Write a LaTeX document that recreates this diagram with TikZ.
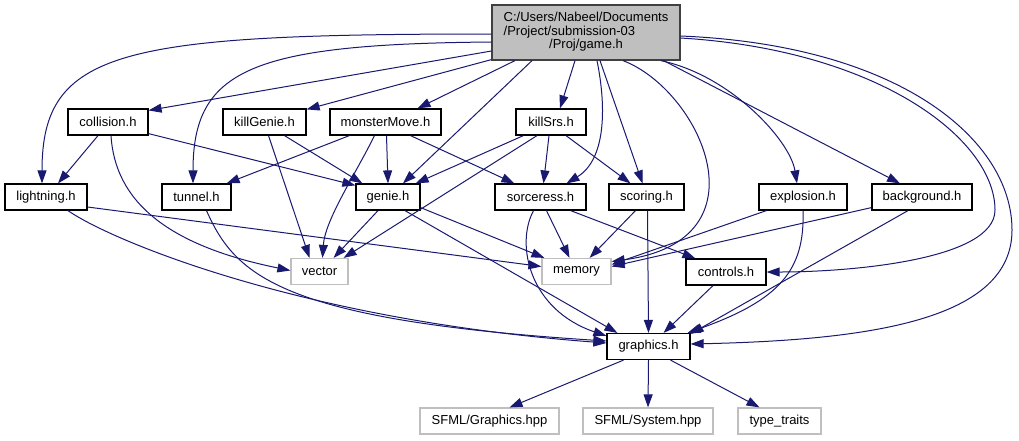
\documentclass[tikz,border=0pt]{standalone}
\usepackage{fontspec}
\setmainfont{Liberation Sans}
\usetikzlibrary{arrows.meta,calc}
\definecolor{edgeblue}{HTML}{191970}
\definecolor{extgray}{HTML}{BFBFBF}
\definecolor{rootborder}{HTML}{404040}
\begin{document}
\begin{tikzpicture}[x=1pt,y=-1pt,
  box/.style={draw=black, line width=1.2pt, fill=white, inner sep=0pt, minimum height=26pt, font=\fontsize{13}{13}\selectfont},
  ext/.style={box, draw=extgray},
  root/.style={box, draw=rootborder, fill=extgray},
  dep/.style={draw=edgeblue, line width=1pt, -{Triangle[length=13pt,width=9pt]}}]
\useasboundingbox (0,0) rectangle (1019,440);
% nodes
\node[root, minimum width=188pt, minimum height=55pt] (game) at (586,32.5) {\begin{tabular}{@{}l@{}}C:/Users/Nabeel/Documents\\/Project/submission-03\\\multicolumn{1}{@{}c@{}}{/Proj/game.h}\end{tabular}};
\node[box, minimum width=80pt]  (collision) at (108,122) {collision.h};
\node[box, minimum width=83pt]  (killGenie) at (264.5,122) {killGenie.h};
\node[box, minimum width=111pt] (monsterMove) at (385.5,122) {monsterMove.h};
\node[box, minimum width=70pt]  (killSrs) at (551,122) {killSrs.h};
\node[box, minimum width=82pt]  (lightning) at (46,197) {lightning.h};
\node[box, minimum width=69pt]  (tunnel) at (196.5,197) {tunnel.h};
\node[box, minimum width=64pt]  (genie) at (388,197) {genie.h};
\node[box, minimum width=91pt]  (sorceress) at (540.5,197) {sorceress.h};
\node[box, minimum width=75pt]  (scoring) at (646.5,197) {scoring.h};
\node[box, minimum width=88pt]  (explosion) at (803,197) {explosion.h};
\node[box, minimum width=100pt] (background) at (922,197) {background.h};
\node[box, minimum width=80pt]  (controls) at (726,272) {controls.h};
\node[ext, minimum width=57pt]  (vector) at (319.5,271.5) {vector};
\node[ext, minimum width=69pt]  (memory) at (576.5,271.5) {memory};
\node[box, minimum width=83pt]  (graphics) at (648.5,346.5) {graphics.h};
\node[ext, minimum width=139pt] (sfmlg) at (489.5,421) {SFML/Graphics.hpp};
\node[ext, minimum width=130pt] (sfmls) at (648,421) {SFML/System.hpp};
\node[ext, minimum width=83pt]  (tt) at (779.5,421) {type\_traits};
% edges from game.h
\draw[dep] ($(game.west)+(0,1.5)$) .. controls (120,34) and (42,50) .. ($(lightning.north)+(-4,0)$);
\draw[dep] ($(game.west)+(0,9.5)$) .. controls (250,44) and (193,70) .. ($(tunnel.north)+(-3.5,0)$);
\draw[dep] ($(game.west)+(0,18.5)$) -- ($(collision.north east)+(0,2)$);
\draw[dep] ($(game.south west)+(0,-1)$) -- ($(killGenie.north east)+(0,1)$);
\draw[dep] ($(game.south)+(-71,0)$) -- ($(monsterMove.north)+(32,0)$);
\draw[dep] ($(game.south)+(-54,0)$) -- ($(genie.north)+(15,0)$);
\draw[dep] ($(game.south)+(-11,0)$) -- ($(killSrs.north)+(9,0)$);
\draw[dep] ($(game.south)+(11,0)$) .. controls (607,110) and (605,160) .. ($(sorceress.north)+(26,0)$);
\draw[dep] ($(game.south)+(14,0)$) -- ($(scoring.north)+(-4,0)$);
\draw[dep] ($(game.south)+(37,0)$) .. controls (700,90) and (770,240) .. ($(memory.east)+(0,-10)$);
\draw[dep] ($(game.south east)+(-20,0)$) .. controls (730,75) and (790,140) .. ($(explosion.north)+(-6,0)$);
\draw[dep] ($(game.south east)+(-17,0)$) -- ($(background.north)+(-22,0)$);
\draw[dep] ($(game.east)+(0,5.5)$) .. controls (880,50) and (995,140) .. (995,210) .. controls (995,260) and (850,272) .. (controls.east);
\draw[dep] ($(game.east)+(0,3.5)$) .. controls (900,45) and (1012,140) .. (1012,230) .. controls (1012,320) and (870,340) .. ($(graphics.east)+(0,-2.5)$);
% collision.h
\draw[dep] ($(collision.south)+(-10,0)$) -- ($(lightning.north)+(12,0)$);
\draw[dep] ($(collision.south east)+(0,-2)$) -- ($(genie.north west)+(0,2)$);
\draw[dep] ($(collision.south)+(3,0)$) .. controls (115,200) and (165,245) .. ($(vector.west)+(0,-1)$);
% killGenie.h
\draw[dep] ($(killGenie.south)+(20,0)$) -- ($(genie.north west)+(7,0)$);
\draw[dep] ($(killGenie.south)+(4,0)$) -- ($(vector.north)+(-10,0)$);
% monsterMove.h
\draw[dep] ($(monsterMove.south west)+(20,0)$) -- ($(tunnel.north east)+(-5,0)$);
\draw[dep] ($(monsterMove.south)+(1,0)$) -- (genie.north);
\draw[dep] ($(monsterMove.south)+(-11,0)$) .. controls (355,175) and (325,220) .. ($(vector.north)+(3,0)$);
\draw[dep] ($(monsterMove.south)+(25,0)$) -- ($(sorceress.north west)+(20,0)$);
% killSrs.h
\draw[dep] ($(killSrs.south west)+(8,0)$) -- ($(genie.north east)+(-5,0)$);
\draw[dep] ($(killSrs.south)+(-14,0)$) -- ($(vector.north east)+(-5,0)$);
\draw[dep] ($(killSrs.south)+(-2,0)$) -- ($(sorceress.north)+(3,0)$);
\draw[dep] ($(killSrs.south)+(15,0)$) -- ($(scoring.north)+(-16,0)$);
% lightning.h
\draw[dep] ($(lightning.east)+(0,10)$) -- ($(memory.west)+(0,-5)$);
\draw[dep] ($(lightning.south)+(22,0)$) .. controls (110,240) and (300,320) .. ($(graphics.west)+(0,-3.5)$);
% tunnel.h
\draw[dep] ($(tunnel.south)+(10,0)$) .. controls (235,275) and (280,320) .. ($(graphics.west)+(0,-5.5)$);
% genie.h
\draw[dep] ($(genie.south)+(-10,0)$) -- ($(vector.north east)+(-15,0)$);
\draw[dep] ($(genie.south east)+(0,-3)$) -- ($(memory.north west)+(3,0)$);
\draw[dep] ($(genie.south)+(17,0)$) -- ($(graphics.north west)+(11,0)$);
% sorceress.h
\draw[dep] ($(sorceress.south)+(6,0)$) -- ($(memory.north)+(-7,0)$);
\draw[dep] ($(sorceress.south)+(-7,0)$) .. controls (515,245) and (530,310) .. ($(graphics.north west)+(0,3)$);
\draw[dep] ($(sorceress.south east)+(-16,0)$) -- ($(controls.north west)+(10,0)$);
% scoring.h
\draw[dep] ($(scoring.south)+(-11,0)$) -- ($(memory.north east)+(-22,0)$);
\draw[dep] ($(scoring.south)+(1,0)$) -- (graphics.north);
% explosion.h
\draw[dep] ($(explosion.south west)+(8,0)$) -- ($(memory.east)+(0,-7)$);
\draw[dep] (explosion.south) .. controls (805,270) and (780,300) .. ($(graphics.north east)+(-3,0)$);
% background.h
\draw[dep] ($(background.south west)+(0,-3)$) -- ($(memory.east)+(0,-5)$);
\draw[dep] ($(background.south)+(-14,0)$) -- ($(graphics.north east)+(0,1)$);
% controls.h
\draw[dep] ($(controls.south)+(-13,0)$) -- ($(graphics.north east)+(-27,0)$);
% graphics.h
\draw[dep] ($(graphics.south)+(-25,0)$) -- ($(sfmlg.north)+(20,0)$);
\draw[dep] (graphics.south) -- (sfmls.north);
\draw[dep] ($(graphics.south)+(22,0)$) -- ($(tt.north)+(-20,0)$);
\end{tikzpicture}
\end{document}
